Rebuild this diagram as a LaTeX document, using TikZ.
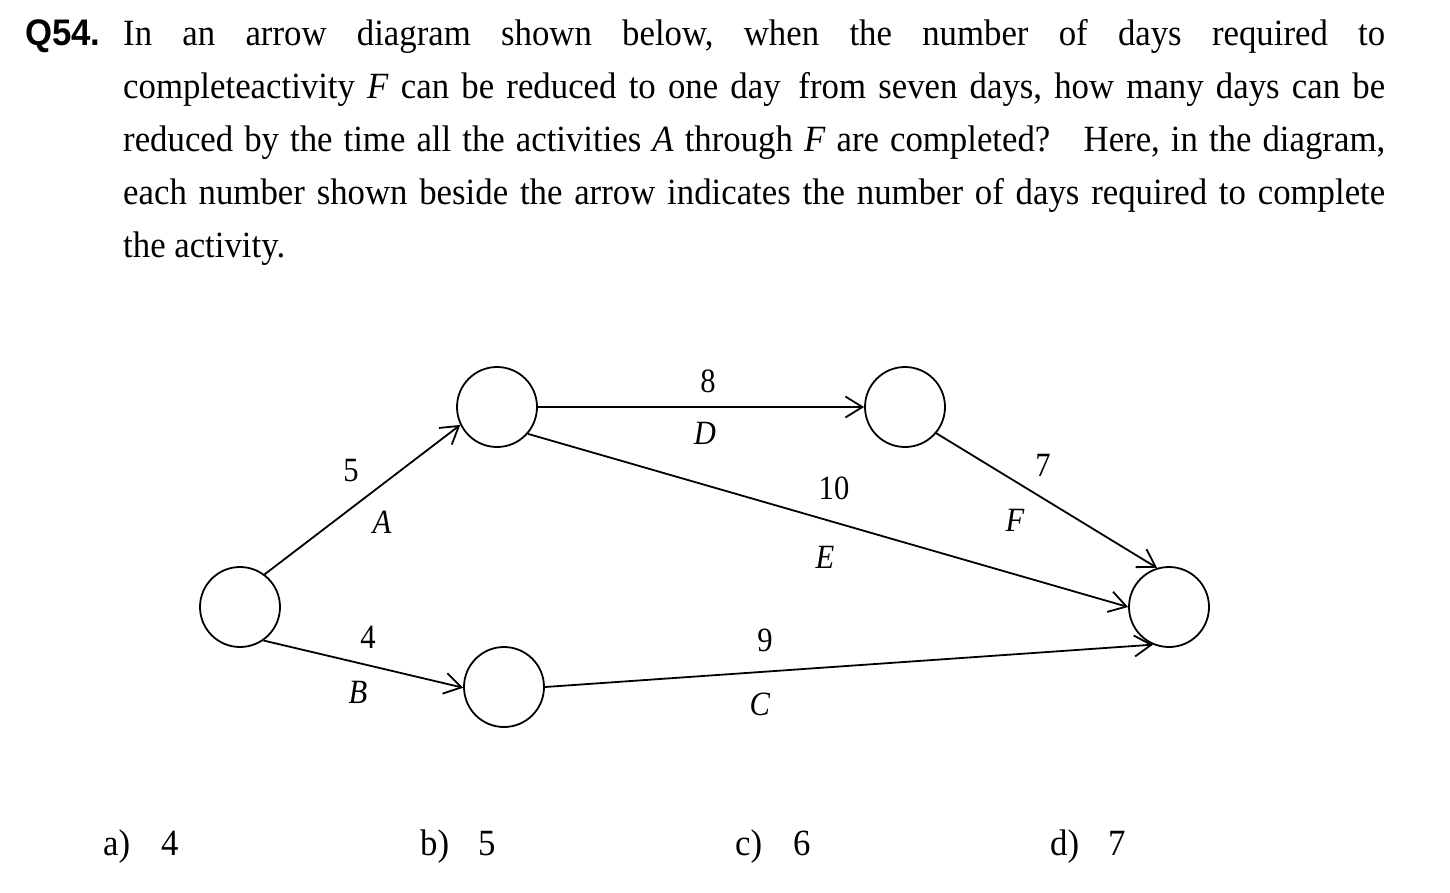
\documentclass[tikz,border=0pt]{standalone}
\usepackage{fontspec}
\setmainfont{Liberation Serif}[FakeStretch=0.94]
\newfontfamily\qnumfont{Liberation Sans}[FakeStretch=0.94]
\newfontfamily\daysfont{Liberation Serif}[FakeStretch=0.9]
\usetikzlibrary{arrows.meta}
\frenchspacing

\begin{document}
\begin{tikzpicture}[x=1pt,y=-1pt,>={Straight Barb[length=17pt,width=21pt]},
  event/.style={circle,draw,line width=1.8pt,minimum size=80pt,inner sep=0pt},
  act/.style={->,line width=1.8pt},
  days/.style={font=\daysfont\fontsize{34}{38}\selectfont},
  txt/.style={anchor=base west,inner sep=0pt,font=\fontsize{37}{44}\selectfont}]

\useasboundingbox (0,0) rectangle (1450,892);

% question text
\node[txt] (qno) at (25,45) {\qnumfont\bfseries Q54.};
\node[txt] (line1) at (123,45) {\makebox[1262pt][s]{In an arrow diagram shown below, when the number of days required to}};
\node[txt] (line2) at (123,98) {\makebox[1262pt][s]{completeactivity \textit{F} can be reduced to one day\hspace{0.15em} from seven days, how many days can be}};
\node[txt] (line3) at (123,151) {\makebox[1262pt][s]{reduced by the time all the activities \textit{A} through \textit{F} are completed?\hspace{0.6em} Here, in the diagram,}};
\node[txt] (line4) at (123,204) {\makebox[1262pt][s]{each number shown beside the arrow indicates the number of days required to complete}};
\node[txt] (line5) at (123,257) {the activity.};

% events
\node[event] (n1) at (240,607) {};
\node[event] (n2) at (497,407) {};
\node[event] (n3) at (504,687) {};
\node[event] (n4) at (905,407) {};
\node[event] (n5) at (1169,607) {};

% activities
\draw[act] (n1.53) -- (n2.206);
\draw[act] (n1.305) -- (n3.181);
\draw[act] (n2.east) -- (n4.west);
\draw[act] (n2.319) -- (n5.180);
\draw[act] (n4.320) -- (n5.107);
\draw[act] (n3.east) -- (n5.247);

% durations and names
\node[days] (wA) at (351,471) {5};
\node[days] (nA) at (382,522) {\textit{A}};
\node[days] (wB) at (368,637) {4};
\node[days] (nB) at (358,692) {\textit{B}};
\node[days] (wD) at (708,381) {8};
\node[days] (nD) at (705,433) {\textit{D}};
\node[days] (wE) at (834,488) {10};
\node[days] (nE) at (825,557) {\textit{E}};
\node[days] (wF) at (1043,465) {7};
\node[days] (nF) at (1015,520) {\textit{F}};
\node[days] (wC) at (765,640) {9};
\node[days] (nC) at (760,704) {\textit{C}};

% choices
\foreach \lt/\val/\xpos in {a/4/103, b/5/420, c/6/735, d/7/1050}
  \node[txt] (ans\lt) at (\xpos,855) {\makebox[58pt][l]{\lt)}\val};

\end{tikzpicture}
\end{document}
